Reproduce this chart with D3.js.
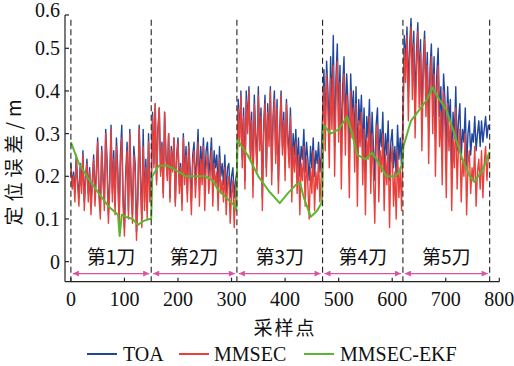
<!DOCTYPE html>
<html><head><meta charset="utf-8">
<script src="https://cdn.jsdelivr.net/npm/d3@7/dist/d3.min.js"></script>
<style>
html,body{margin:0;padding:0;background:#fff;}
svg{display:block;}
text{font-family:"Liberation Serif","Times New Roman",serif;}
.cjk{font-family:"Noto Sans CJK SC","Noto Sans CJK JP",sans-serif;}
</style></head>
<body>
<script>
// ---- data (one value every 2.5 samples, per cutting segment) ----
const toaSeg1 = [0.23,0.18,0.21,0.16,0.25,0.19,0.15,0.23,0.18,0.26,0.14,0.20,0.24,0.16,0.22,0.13,0.19,0.25,0.15,0.21,
 0.29,0.17,0.12,0.27,0.20,0.14,0.31,0.24,0.11,0.19,0.32,0.16,0.26,0.13,0.29,0.22,0.10,0.25,0.32,0.15,
 0.08,0.21,0.28,0.12,0.31,0.18,0.11,0.27,0.23,0.07,0.16,0.32,0.20,0.10,0.31,0.14,0.24,0.12,0.30,0.16];
const toaSeg2 = [0.17,0.35,0.23,0.37,0.19,0.31,0.36,0.21,0.28,0.16,0.35,0.25,0.20,0.30,0.15,0.27,0.22,0.29,0.14,0.25,
 0.29,0.18,0.23,0.14,0.30,0.20,0.27,0.16,0.28,0.22,0.14,0.25,0.28,0.18,0.24,0.31,0.17,0.27,0.22,0.29,
 0.18,0.26,0.28,0.20,0.24,0.29,0.18,0.26,0.22,0.25,0.17,0.27,0.20,0.23,0.18,0.25,0.16,0.22,0.23,0.15,
 0.20,0.22,0.15,0.19];
const toaSeg3 = [0.21,0.38,0.29,0.40,0.24,0.36,0.19,0.40,0.32,0.41,0.26,0.35,0.18,0.39,0.30,0.23,0.41,0.28,0.36,0.15,
 0.32,0.39,0.22,0.37,0.29,0.41,0.21,0.34,0.40,0.25,0.38,0.19,0.31,0.40,0.27,0.35,0.22,0.38,0.30,0.25,
 0.36,0.20,0.30,0.25,0.31,0.22,0.29,0.20,0.27,0.24,0.31,0.21,0.28,0.24,0.19,0.27,0.22,0.29,0.20,0.26,
 0.23,0.28,0.21,0.25];
const toaSeg4 = [0.34,0.45,0.31,0.47,0.40,0.29,0.48,0.36,0.53,0.27,0.43,0.51,0.33,0.46,0.25,0.41,0.48,0.31,0.44,0.37,
 0.24,0.44,0.34,0.40,0.28,0.41,0.22,0.38,0.32,0.39,0.26,0.36,0.21,0.34,0.29,0.38,0.24,0.35,0.27,0.19,
 0.32,0.36,0.23,0.31,0.27,0.35,0.21,0.30,0.25,0.33,0.19,0.28,0.31,0.22,0.27,0.20,0.32,0.24,0.29,0.22];
const toaSeg5 = [0.34,0.53,0.47,0.55,0.40,0.51,0.57,0.44,0.54,0.37,0.49,0.56,0.42,0.52,0.34,0.47,0.54,0.40,0.49,0.31,
 0.45,0.51,0.37,0.48,0.29,0.44,0.50,0.34,0.41,0.27,0.44,0.38,0.25,0.41,0.33,0.38,0.22,0.35,0.29,0.41,
 0.26,0.33,0.37,0.24,0.31,0.28,0.36,0.22,0.30,0.33,0.25,0.30,0.28,0.34,0.26,0.30,0.33,0.27,0.33,0.28,
 0.31,0.34,0.29,0.32,0.31];

const mmsecSeg1 = [0.22,0.17,0.20,0.14,0.24,0.18,0.13,0.22,0.16,0.25,0.12,0.19,0.23,0.14,0.21,0.11,0.18,0.24,0.13,0.20,
 0.28,0.15,0.10,0.26,0.19,0.12,0.30,0.22,0.09,0.17,0.31,0.14,0.24,0.11,0.27,0.20,0.08,0.23,0.29,0.13,
 0.06,0.19,0.26,0.10,0.30,0.16,0.09,0.25,0.21,0.05,0.14,0.31,0.18,0.08,0.27,0.12,0.22,0.10,0.28,0.14];
const mmsecSeg2 = [0.16,0.34,0.22,0.37,0.18,0.30,0.36,0.20,0.27,0.15,0.35,0.24,0.19,0.30,0.14,0.26,0.21,0.29,0.13,0.24,
 0.28,0.16,0.22,0.12,0.29,0.18,0.25,0.14,0.27,0.20,0.11,0.23,0.26,0.15,0.21,0.28,0.13,0.24,0.18,0.27,
 0.12,0.22,0.25,0.16,0.20,0.26,0.13,0.23,0.18,0.21,0.12,0.24,0.16,0.19,0.14,0.22,0.11,0.18,0.20,0.09,
 0.16,0.19,0.08,0.17];
const mmsecSeg3 = [0.19,0.36,0.27,0.39,0.22,0.34,0.17,0.38,0.30,0.40,0.24,0.33,0.15,0.37,0.28,0.21,0.39,0.26,0.34,0.12,
 0.30,0.37,0.20,0.35,0.27,0.40,0.18,0.32,0.38,0.23,0.36,0.16,0.29,0.39,0.25,0.33,0.19,0.37,0.28,0.22,
 0.34,0.14,0.27,0.21,0.28,0.16,0.25,0.11,0.23,0.19,0.27,0.13,0.24,0.18,0.10,0.22,0.16,0.26,0.12,0.21,
 0.17,0.24,0.14,0.20];
const mmsecSeg4 = [0.30,0.41,0.26,0.44,0.35,0.22,0.43,0.31,0.46,0.20,0.38,0.47,0.28,0.42,0.17,0.36,0.44,0.25,0.39,0.32,
 0.15,0.40,0.29,0.36,0.21,0.37,0.13,0.33,0.27,0.35,0.18,0.31,0.11,0.29,0.24,0.34,0.16,0.30,0.20,0.09,
 0.27,0.32,0.14,0.26,0.21,0.30,0.12,0.25,0.18,0.28,0.08,0.23,0.27,0.13,0.21,0.10,0.26,0.15,0.22,0.12];
const mmsecSeg5 = [0.28,0.50,0.42,0.53,0.33,0.47,0.55,0.38,0.51,0.29,0.45,0.54,0.36,0.49,0.26,0.43,0.52,0.34,0.46,0.23,
 0.41,0.48,0.30,0.44,0.20,0.39,0.46,0.27,0.35,0.18,0.40,0.32,0.15,0.37,0.26,0.33,0.12,0.29,0.22,0.36,
 0.17,0.27,0.31,0.14,0.24,0.20,0.30,0.11,0.23,0.26,0.16,0.22,0.19,0.27,0.13,0.21,0.24,0.17,0.26,0.15,
 0.23,0.27,0.19,0.25,0.24];

const ekfX = [0,15,30,52,70,88,91,95,103,115,125,135,146,150,
  152,164,180,195,215,230,251,265,275,290,304,309,
  311,330,350,370,390,405,420,428,435,448,460,469,
  472,485,500,516,525,535,550,563,575,589,605,613,619,
  621,635,651,665,675,688,701,712,731,745,753,769,782];
const ekfY = [0.28,0.23,0.20,0.16,0.13,0.11,0.06,0.11,0.105,0.10,0.086,0.095,0.10,0.10,
  0.20,0.225,0.225,0.215,0.20,0.20,0.20,0.19,0.168,0.15,0.133,0.12,
  0.285,0.25,0.20,0.165,0.137,0.16,0.18,0.185,0.15,0.105,0.12,0.14,
  0.32,0.30,0.31,0.34,0.30,0.25,0.24,0.255,0.23,0.20,0.20,0.21,0.23,
  0.27,0.33,0.356,0.38,0.408,0.38,0.356,0.316,0.24,0.20,0.187,0.215,0.257];
const boundaries = [0,150,310,470,620,782];
const segLabels = ["第1刀","第2刀","第3刀","第4刀","第5刀"];
const xTicks = [0,100,200,300,400,500,600,700,800];
const yTicks = [0,0.1,0.2,0.3,0.4,0.5,0.6];
const yTickLabels = ["0","0.1","0.2","0.3","0.4","0.5","0.6"];
const seriesNames = ["TOA","MMSEC","MMSEC-EKF"];
const colors = ["#20479b","#e8413c","#5cb531"];

// ---- chart ----
const W=514,H=366;
const svg=d3.select("body").append("svg").attr("width",W).attr("height",H);
const x=d3.scaleLinear().domain([-11,800]).range([65,499.3]);
const y=d3.scaleLinear().domain([-0.047,0.578]).range([281.7,15]).clamp(true);

function toPoints(segs){
  const pts=[];
  segs.forEach((arr,k)=>{
    const s0=boundaries[k], s1=boundaries[k+1];
    const step=(s1-s0)/(arr.length-(k===segs.length-1?1:0));
    arr.forEach((v,i)=>pts.push([s0+i*step,v]));
  });
  return pts;
}
const toaPts=toPoints([toaSeg1,toaSeg2,toaSeg3,toaSeg4,toaSeg5]);
const mmsecPts=toPoints([mmsecSeg1,mmsecSeg2,mmsecSeg3,mmsecSeg4,mmsecSeg5]);
const line=d3.line().x(d=>x(d[0])).y(d=>y(d[1]));

svg.append("path").datum(toaPts)
  .attr("d",line).attr("fill","none").attr("stroke",colors[0]).attr("stroke-width",1.4).attr("stroke-linejoin","round");
svg.append("path").datum(mmsecPts)
  .attr("d",line).attr("fill","none").attr("stroke",colors[1]).attr("stroke-width",1.4).attr("stroke-linejoin","round");
svg.append("path").datum(ekfX.map((s,i)=>[s,ekfY[i]]))
  .attr("d",line).attr("fill","none").attr("stroke",colors[2]).attr("stroke-width",2).attr("stroke-linejoin","round");

// dashed separators
svg.selectAll(".sep").data(boundaries).enter().append("line")
  .attr("x1",d=>x(d)).attr("x2",d=>x(d))
  .attr("y1",y(0.567)).attr("y2",y(-0.047))
  .attr("stroke","#222").attr("stroke-width",1.1).attr("stroke-dasharray","6,3.5");

// arrows
const defs=svg.append("defs");
defs.append("marker").attr("id","ah").attr("viewBox","0 0 10 10").attr("refX",10).attr("refY",5)
  .attr("markerWidth",9).attr("markerHeight",6).attr("markerUnits","userSpaceOnUse").attr("orient","auto-start-reverse")
  .append("path").attr("d","M0,0L10,5L0,10z").attr("fill","#d9539e");
const segs=d3.range(segLabels.length).map(i=>[boundaries[i],boundaries[i+1]]);
svg.selectAll(".arr").data(segs).enter().append("line")
  .attr("x1",d=>x(d[0])+2).attr("x2",d=>x(d[1])-2)
  .attr("y1",y(-0.028)).attr("y2",y(-0.028))
  .attr("stroke","#d9539e").attr("stroke-width",1.2)
  .attr("marker-start","url(#ah)").attr("marker-end","url(#ah)");
svg.selectAll(".seglab").data(segs).enter().append("text").attr("class","cjk")
  .attr("x",d=>x((d[0]+d[1])/2)).attr("y",y(0.01)).attr("dy","0.35em")
  .attr("text-anchor","middle").attr("font-size",19).attr("fill","#111")
  .text((d,i)=>segLabels[i]);

// axes
const ax=svg.append("g").attr("stroke","#222").attr("stroke-width",1.2);
ax.append("line").attr("x1",x(-11)).attr("x2",x(-11)).attr("y1",y(0.578)).attr("y2",y(-0.047));
ax.append("line").attr("x1",x(-11)).attr("x2",x(800)).attr("y1",y(-0.047)).attr("y2",y(-0.047));
ax.selectAll(".yt").data(yTicks).enter().append("line")
  .attr("x1",x(-11)).attr("x2",x(-11)+4).attr("y1",d=>y(d)).attr("y2",d=>y(d));
ax.selectAll(".xt").data(xTicks).enter().append("line")
  .attr("x1",d=>x(d)).attr("x2",d=>x(d)).attr("y1",y(-0.047)).attr("y2",y(-0.047)-4);

svg.selectAll(".ytl").data(yTicks).enter().append("text")
  .attr("x",x(-11)-5).attr("y",(d,i)=>y(d)+(i===6?-5:0)).attr("dy","0.35em")
  .attr("text-anchor","end").attr("font-size",20).attr("fill","#111")
  .text((d,i)=>yTickLabels[i]);
svg.selectAll(".xtl").data(xTicks).enter().append("text")
  .attr("x",d=>x(d)).attr("y",y(-0.047)+17).attr("dy","0.35em")
  .attr("text-anchor","middle").attr("font-size",20).attr("fill","#111")
  .text(d=>d);

svg.append("text").attr("class","cjk").attr("transform","translate(14,160) rotate(-90)")
  .attr("text-anchor","middle").attr("dy","0.35em").attr("font-size",19).attr("letter-spacing",5).attr("fill","#111").text("定位误差/m");
svg.append("text").attr("class","cjk").attr("x",285).attr("y",328).attr("dy","0.35em")
  .attr("text-anchor","middle").attr("font-size",19).attr("fill","#111").attr("letter-spacing",2).text("采样点");

// legend
const lg=[{x:87,tx:123},{x:179,tx:214},{x:304,tx:340}];
lg.forEach((p,i)=>{
  svg.append("line").attr("x1",p.x).attr("x2",p.x+30).attr("y1",354).attr("y2",354)
    .attr("stroke",colors[i]).attr("stroke-width",2);
  svg.append("text").attr("x",p.tx).attr("y",361).attr("font-size",20).attr("fill","#111").text(seriesNames[i]);
});
</script>
</body></html>
